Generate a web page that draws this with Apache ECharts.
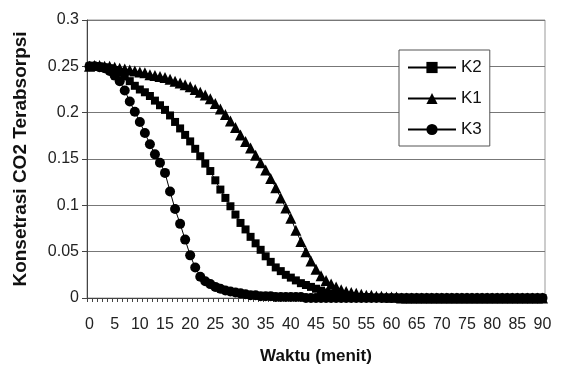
<!DOCTYPE html>
<html>
<head>
<meta charset="utf-8">
<script src="https://cdn.jsdelivr.net/npm/echarts@6/dist/echarts.min.js"></script>
<style>
  html, body { margin: 0; padding: 0; background: #fff; }
  #chart { width: 561px; height: 373px; }
</style>
</head>
<body>
<div id="chart"></div>
<script>
// minutes 0..90, one reading per minute
const minutes = [
  0, 1, 2, 3, 4, 5, 6, 7, 8, 9, 10, 11, 12, 13, 14, 15, 16, 17, 18, 19,
  20, 21, 22, 23, 24, 25, 26, 27, 28, 29, 30, 31, 32, 33, 34, 35, 36, 37, 38, 39,
  40, 41, 42, 43, 44, 45, 46, 47, 48, 49, 50, 51, 52, 53, 54, 55, 56, 57, 58, 59,
  60, 61, 62, 63, 64, 65, 66, 67, 68, 69, 70, 71, 72, 73, 74, 75, 76, 77, 78, 79,
  80, 81, 82, 83, 84, 85, 86, 87, 88, 89, 90
];

const k2 = [
  0.25, 0.25, 0.25, 0.249, 0.248, 0.246, 0.243, 0.239, 0.234, 0.229,
  0.225, 0.222, 0.218, 0.213, 0.208, 0.203, 0.197, 0.19, 0.183, 0.176,
  0.169, 0.161, 0.153, 0.145, 0.137, 0.127, 0.117, 0.108, 0.099, 0.09,
  0.081, 0.074, 0.066, 0.059, 0.052, 0.045, 0.039, 0.033, 0.029, 0.025,
  0.022, 0.019, 0.016, 0.014, 0.012, 0.01, 0.008, 0.006, 0.005, 0.004,
  0.003, 0.002, 0.002, 0.001, 0.001, 0.001, 0, 0, 0, 0,
  0, 0, 0, 0, 0, 0, 0, 0, 0, 0,
  0, 0, 0, 0, 0, 0, 0, 0, 0, 0,
  0, 0, 0, 0, 0, 0, 0, 0, 0, 0, 0
];

const k1 = [
  0.25, 0.251, 0.251, 0.25, 0.25, 0.249, 0.248, 0.247, 0.246, 0.245,
  0.244, 0.243, 0.241, 0.24, 0.239, 0.238, 0.236, 0.234, 0.232, 0.23,
  0.228, 0.225, 0.222, 0.219, 0.215, 0.21, 0.204, 0.198, 0.191, 0.184,
  0.176, 0.169, 0.162, 0.154, 0.146, 0.138, 0.129, 0.119, 0.108, 0.097,
  0.086, 0.073, 0.061, 0.05, 0.04, 0.031, 0.024, 0.019, 0.015, 0.012,
  0.009, 0.007, 0.006, 0.005, 0.004, 0.003, 0.003, 0.002, 0.002, 0.001,
  0.001, 0.001, 0, 0, 0, 0, 0, 0, 0, 0,
  0, 0, 0, 0, 0, 0, 0, 0, 0, 0,
  0, 0, 0, 0, 0, 0, 0, 0, 0, 0, 0
];

const k3 = [
  0.25, 0.25, 0.249, 0.248, 0.245, 0.24, 0.234, 0.224, 0.212, 0.201,
  0.19, 0.178, 0.166, 0.155, 0.146, 0.135, 0.115, 0.096, 0.08, 0.063,
  0.046, 0.033, 0.023, 0.018, 0.015, 0.012, 0.01, 0.008, 0.007, 0.006,
  0.005, 0.004, 0.003, 0.003, 0.002, 0.002, 0.002, 0.001, 0.001, 0.001,
  0.001, 0.001, 0.001, 0, 0, 0, 0, 0, 0, 0,
  0, 0, 0, 0, 0, 0, 0, 0, 0, 0,
  0, 0, 0, 0, 0, 0, 0, 0, 0, 0,
  0, 0, 0, 0, 0, 0, 0, 0, 0, 0,
  0, 0, 0, 0, 0, 0, 0, 0, 0, 0, 0
];

const FONT = '"Liberation Sans", Arial, sans-serif';

const chart = echarts.init(document.getElementById('chart'), null, { renderer: 'canvas' });

function lineSeries(name, data, symbol, size) {
  return {
    name,
    type: 'line',
    data,
    symbol,
    symbolSize: size,
    showAllSymbol: true,
    animation: false,
    itemStyle: { color: '#000' },
    lineStyle: { color: '#000', width: 1 },
  };
}

chart.setOption({
  backgroundColor: '#fff',
  textStyle: { fontFamily: FONT },
  grid: {
    left: 87, right: 16, top: 20, bottom: 75,
    show: true, borderColor: '#999', borderWidth: 1,
  },
  legend: {
    orient: 'vertical',
    left: 399, top: 50,
    padding: [9, 8, 8, 8],
    itemGap: 14,
    itemWidth: 48,
    itemHeight: 14,
    backgroundColor: '#fff',
    borderColor: '#555',
    borderWidth: 1,
    textStyle: { fontFamily: FONT, fontSize: 17, color: '#111', lineHeight: 16 },
    data: ['K2', 'K1', 'K3'],
  },
  xAxis: {
    type: 'category',
    data: minutes,
    boundaryGap: true,
    name: 'Waktu (menit)',
    nameLocation: 'middle',
    nameGap: 50,
    nameTextStyle: { fontFamily: FONT, fontSize: 17, fontWeight: 'bold', color: '#111' },
    axisLine: { lineStyle: { color: '#444', width: 1 } },
    axisTick: { show: true, interval: 0, length: 4, lineStyle: { color: '#444' } },
    axisLabel: { interval: 4, margin: 19, fontFamily: FONT, fontSize: 16, color: '#222' },
    splitLine: { show: false },
  },
  yAxis: {
    type: 'value',
    min: 0, max: 0.3, interval: 0.05,
    name: 'Konsetrasi CO2 Terabsorpsi',
    nameLocation: 'middle',
    nameGap: 57,
    nameTextStyle: { fontFamily: FONT, fontSize: 19, fontWeight: 'bold', color: '#111' },
    axisLine: { show: true, lineStyle: { color: '#444', width: 1 } },
    axisTick: { show: true, length: 5, lineStyle: { color: '#444' } },
    axisLabel: { margin: 8, fontFamily: FONT, fontSize: 16, color: '#222' },
    splitLine: { lineStyle: { color: '#777', width: 1 } },
  },
  series: [
    lineSeries('K2', k2, 'rect', 8),
    lineSeries('K1', k1, 'triangle', 11),
    lineSeries('K3', k3, 'circle', 10),
  ],
});
</script>
</body>
</html>
